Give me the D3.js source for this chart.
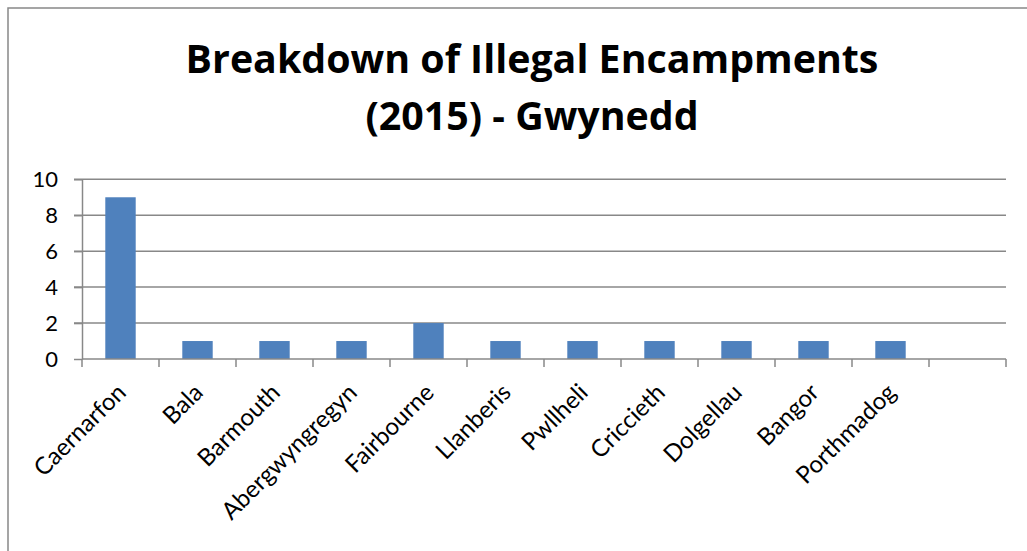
<!DOCTYPE html>
<html><head><meta charset="utf-8">
<script src="https://cdn.jsdelivr.net/npm/d3@7"></script>
<style>html,body{margin:0;padding:0;background:#fff;overflow:hidden}</style>
</head><body>
<svg id="c" width="1027" height="551"></svg>
<script>
const categories = ["Caernarfon","Bala","Barmouth","Abergwyngregyn","Fairbourne","Llanberis","Pwllheli","Criccieth","Dolgellau","Bangor","Porthmadog",""];
const values = [9,1,1,1,2,1,1,1,1,1,1,null];
const yTicks = [0,2,4,6,8,10];
const titleLines = ["Breakdown of Illegal Encampments","(2015) - Gwynedd"];

const svg = d3.select("#c");
const FONT = "Lato, 'Open Sans', sans-serif";
const TFONT = "'Open Sans', Lato, sans-serif";
const m = {left:82, right:1006, top:179.3, bottom:359};

// outer frame (extends beyond view right/bottom)
svg.append("rect").attr("x",8).attr("y",8).attr("width",1040).attr("height",600)
  .attr("fill","#fff").attr("stroke","#888").attr("stroke-width",1.5);

const x = d3.scaleBand().domain(d3.range(categories.length)).range([m.left,m.right]).paddingInner(0).paddingOuter(0);
const y = d3.scaleLinear().domain([0,10]).range([m.bottom,m.top]);

// gridlines
svg.append("g").selectAll("line").data(yTicks.filter(d=>d>0)).join("line")
  .attr("x1",m.left-8).attr("x2",m.right).attr("y1",d=>y(d)).attr("y2",d=>y(d))
  .attr("stroke","#888").attr("stroke-width",1.5);

// y axis
const ya = svg.append("g").attr("transform",`translate(${m.left},0)`)
  .call(d3.axisLeft(y).tickValues(yTicks).tickSize(8).tickPadding(16).tickSizeOuter(0));
ya.select(".domain").attr("stroke","#888").attr("stroke-width",1.5);
ya.selectAll(".tick line").attr("stroke","#888").attr("stroke-width",1.5);
ya.selectAll(".tick text").attr("font-family",FONT).attr("font-size",22).attr("fill","#000");

// bars
const bw = x.bandwidth()*0.395;
svg.append("g").selectAll("rect").data(values.map((v,i)=>({v,i})).filter(d=>d.v!=null)).join("rect")
  .attr("x",d=>x(d.i)+x.bandwidth()/2-bw/2).attr("width",bw)
  .attr("y",d=>y(d.v)).attr("height",d=>y(0)-y(d.v)).attr("fill","#4F81BD");

// x axis line + ticks at band boundaries
svg.append("line").attr("x1",m.left).attr("x2",m.right).attr("y1",m.bottom).attr("y2",m.bottom)
  .attr("stroke","#888").attr("stroke-width",1.5);
const bounds = d3.range(categories.length+1).map(i=>m.left+i*x.bandwidth());
svg.append("g").selectAll("line").data(bounds).join("line")
  .attr("x1",d=>d).attr("x2",d=>d).attr("y1",m.bottom).attr("y2",m.bottom+8)
  .attr("stroke","#888").attr("stroke-width",1.5);

// x labels
svg.append("g").selectAll("text").data(categories.map((c,i)=>({c,i}))).join("text")
  .attr("transform",d=>`translate(${x(d.i)+x.bandwidth()/2+1},${m.bottom+29}) rotate(-45)`)
  .attr("text-anchor","end").attr("dy","0.35em")
  .attr("font-family",FONT).attr("font-size",24).attr("fill","#000")
  .text(d=>d.c);

// title
const tl = svg.append("g").selectAll("text").data(titleLines).join("text")
  .attr("x",532).attr("y",(d,i)=>73+i*57).attr("text-anchor","middle")
  .attr("font-family",TFONT).attr("font-weight","bold").attr("font-size",36).attr("fill","#000")
  .text(d=>d);
const w0 = tl.nodes()[0].getComputedTextLength();
tl.attr("font-size",36*693/w0);
</script>
</body></html>
